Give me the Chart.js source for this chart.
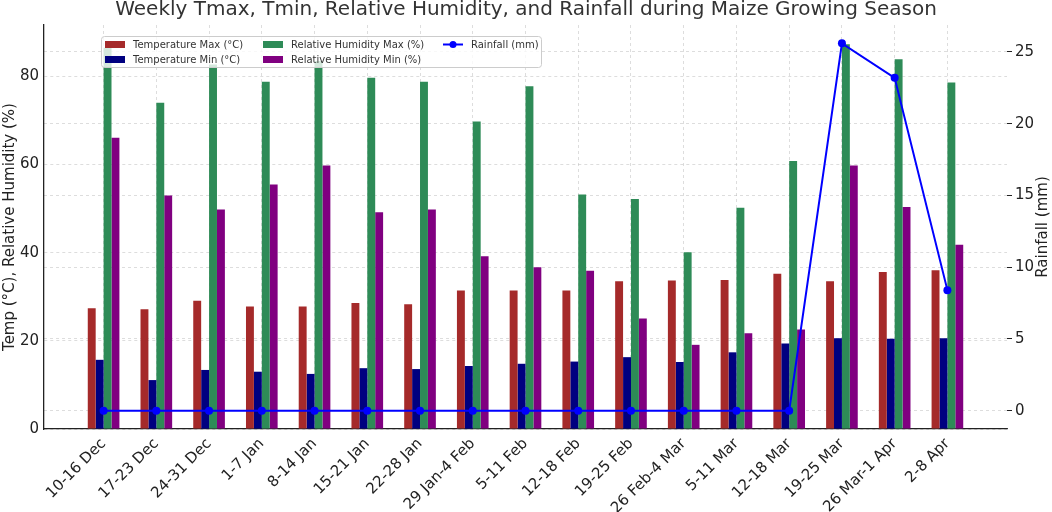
<!DOCTYPE html>
<html>
<head>
<meta charset="utf-8">
<title>Weekly weather during maize season</title>
<script src="https://cdn.jsdelivr.net/npm/chart.js@4.4.1/dist/chart.umd.min.js"></script>
<style>
    html, body { margin: 0; padding: 0; background: #fff; }
    #wrap { width: 1052px; height: 512px; }
</style>
</head>
<body>
<div id="wrap"><canvas id="weatherChart" width="1052" height="512"></canvas></div>
<script>
const weeks = ['10-16 Dec', '17-23 Dec', '24-31 Dec', '1-7 Jan', '8-14 Jan', '15-21 Jan', '22-28 Jan',
    '29 Jan-4 Feb', '5-11 Feb', '12-18 Feb', '19-25 Feb', '26 Feb-4 Mar', '5-11 Mar', '12-18 Mar',
    '19-25 Mar', '26 Mar-1 Apr', '2-8 Apr'];
const tempMax = [27.4, 27.2, 29.1, 27.8, 27.8, 28.6, 28.3, 31.4, 31.4, 31.4, 33.5, 33.7, 33.8, 35.2, 33.5, 35.6, 36.0];
const tempMin = [15.7, 11.1, 13.4, 13.0, 12.5, 13.8, 13.6, 14.3, 14.8, 15.3, 16.3, 15.2, 17.4, 19.4, 20.6, 20.5, 20.6];
const rhMax = [86.5, 74.0, 82.7, 78.8, 83.5, 79.7, 78.8, 69.8, 77.8, 53.2, 52.2, 40.1, 50.2, 60.8, 87.3, 83.9, 78.6];
const rhMin = [66.1, 53.0, 49.8, 55.5, 59.8, 49.2, 49.8, 39.2, 36.7, 35.9, 25.1, 19.1, 21.7, 22.6, 59.8, 50.4, 41.8];
const rainfall = [0, 0, 0, 0, 0, 0, 0, 0, 0, 0, 0, 0, 0, 0, 25.6, 23.2, 8.4];

const leftTicks = [0, 20, 40, 60, 80];
const rightTicks = [0, 5, 10, 15, 20, 25];

const FONT = '"DejaVu Sans", "Liberation Sans", sans-serif';
const gridColor = 'rgba(176, 176, 176, 0.55)';

function toPoints(values) {
    return values.map((v, i) => ({ x: i, y: v }));
}

// matplotlib-like legend: 3 columns, filled column by column
const boxLegend = {
    id: 'boxLegend',
    afterDraw(chart) {
        const ctx = chart.ctx;
        const sets = chart.data.datasets;
        const cols = [105, 263, 443];
        const rows = [44.5, 59.5];
        const slots = [[0, 0], [0, 1], [1, 0], [1, 1], [2, 0]];

        ctx.save();
        ctx.beginPath();
        ctx.roundRect(101.5, 36.5, 440, 31, 3);
        ctx.fillStyle = 'rgba(255, 255, 255, 0.8)';
        ctx.fill();
        ctx.strokeStyle = '#cccccc';
        ctx.lineWidth = 1;
        ctx.stroke();

        ctx.font = '10px ' + FONT;
        ctx.textBaseline = 'middle';
        sets.forEach((ds, i) => {
            const x = cols[slots[i][0]];
            const y = rows[slots[i][1]];
            if (ds.type === 'line') {
                ctx.strokeStyle = ds.borderColor;
                ctx.lineWidth = 2;
                ctx.beginPath();
                ctx.moveTo(x, y);
                ctx.lineTo(x + 20, y);
                ctx.stroke();
                ctx.fillStyle = ds.borderColor;
                ctx.beginPath();
                ctx.arc(x + 10, y, 3.5, 0, Math.PI * 2);
                ctx.fill();
            } else {
                ctx.fillStyle = ds.backgroundColor;
                ctx.fillRect(x, y - 3.5, 20, 7);
            }
            ctx.fillStyle = '#333';
            ctx.fillText(ds.label, x + 28, y + 0.5);
        });
        ctx.restore();
    }
};

// right axis title reads bottom-to-top like the left one
const rightTitle = {
    id: 'rightTitle',
    afterDraw(chart) {
        const ctx = chart.ctx;
        const area = chart.chartArea;
        ctx.save();
        ctx.translate(chart.width - 9, (area.top + area.bottom) / 2);
        ctx.rotate(-Math.PI / 2);
        ctx.font = '15px ' + FONT;
        ctx.fillStyle = '#222';
        ctx.textAlign = 'center';
        ctx.textBaseline = 'middle';
        ctx.fillText('Rainfall (mm)', 0, 0);
        ctx.restore();
    }
};

const ctx = document.getElementById('weatherChart');

new Chart(ctx, {
    data: {
        datasets: [
            { type: 'bar', label: 'Temperature Max (°C)', data: toPoints(tempMax), backgroundColor: '#A52A2A', yAxisID: 'y' },
            { type: 'bar', label: 'Temperature Min (°C)', data: toPoints(tempMin), backgroundColor: '#000080', yAxisID: 'y' },
            { type: 'bar', label: 'Relative Humidity Max (%)', data: toPoints(rhMax), backgroundColor: '#2E8B57', yAxisID: 'y' },
            { type: 'bar', label: 'Relative Humidity Min (%)', data: toPoints(rhMin), backgroundColor: '#800080', yAxisID: 'y' },
            {
                type: 'line', label: 'Rainfall (mm)', data: toPoints(rainfall), yAxisID: 'y1',
                borderColor: '#0000FF', backgroundColor: '#0000FF', borderWidth: 2,
                pointRadius: 4, pointBorderWidth: 0, pointBackgroundColor: '#0000FF',
                tension: 0, order: -1
            }
        ]
    },
    options: {
        responsive: false,
        animation: false,
        devicePixelRatio: 1,
        events: [],
        layout: { padding: 0 },
        datasets: {
            bar: { categoryPercentage: 0.6, barPercentage: 1.0 }
        },
        scales: {
            x: {
                type: 'linear',
                min: -1.13,
                max: 17.13,
                offset: false,
                z: 1,
                afterBuildTicks: scale => { scale.ticks = weeks.map((w, i) => ({ value: i })); },
                afterFit: scale => { scale.height = 83; },
                ticks: {
                    autoSkip: false,
                    minRotation: 45,
                    maxRotation: 45,
                    padding: 6,
                    color: '#222',
                    font: { family: FONT, size: 15 },
                    callback: value => weeks[value]
                },
                grid: { color: gridColor, lineWidth: 0.8, drawTicks: false, offset: false },
                border: { display: true, color: '#222', width: 1.3, dash: [3, 3] }
            },
            y: {
                position: 'left',
                min: 0,
                max: 91.67,
                z: 1,
                afterBuildTicks: scale => { scale.ticks = leftTicks.map(v => ({ value: v })); },
                afterFit: scale => { scale.width = 44; },
                ticks: { padding: 5, color: '#222', font: { family: FONT, size: 15 } },
                grid: { color: gridColor, lineWidth: 0.8, drawTicks: false },
                border: { display: true, color: '#222', width: 1.3, dash: [3, 3] },
                title: {
                    display: true,
                    text: 'Temp (°C), Relative Humidity (%)',
                    color: '#222',
                    font: { family: FONT, size: 15 },
                    padding: { top: 1, bottom: 0 }
                }
            },
            y1: {
                position: 'right',
                min: -1.28,
                max: 26.88,
                z: 1,
                afterBuildTicks: scale => { scale.ticks = rightTicks.map(v => ({ value: v })); },
                afterFit: scale => { scale.width = 45; },
                ticks: { padding: 3, color: '#222', font: { family: FONT, size: 15 } },
                grid: {
                    color: gridColor, lineWidth: 0.8, drawTicks: true, tickLength: 5,
                    tickColor: '#222', tickWidth: 1, tickBorderDash: []
                },
                border: { display: false, dash: [3, 3] }
            }
        },
        plugins: {
            legend: { display: false },
            tooltip: { enabled: false },
            title: {
                display: true,
                text: 'Weekly Tmax, Tmin, Relative Humidity, and Rainfall during Maize Growing Season',
                color: '#333',
                font: { family: FONT, size: 20, weight: 'normal', lineHeight: 1 },
                padding: { top: 0, bottom: 5 }
            }
        }
    },
    plugins: [boxLegend, rightTitle]
});
</script>
</body>
</html>
